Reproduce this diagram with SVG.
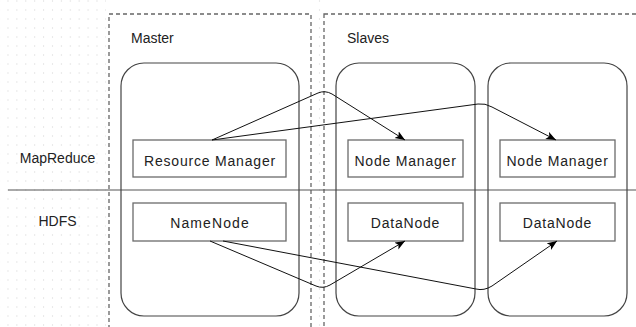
<svg xmlns="http://www.w3.org/2000/svg" width="636" height="327" viewBox="0 0 636 327">
  <defs>
    <pattern id="dots" x="3.5" y="5.5" width="8.9" height="9" patternUnits="userSpaceOnUse">
      <rect x="4" y="4" width="1" height="1" fill="#d0d0d0"/>
    </pattern>
    <marker id="arrow" markerUnits="userSpaceOnUse" markerWidth="12" markerHeight="10" refX="10" refY="4" orient="auto">
      <path d="M0,0 L10,4 L0,8 L2.5,4 z" fill="#000"/>
    </marker>
  </defs>
  <style>
    .zone { fill: #fff; stroke: #666; stroke-width: 1.3; stroke-dasharray: 4 3; }
    .host { fill: none; stroke: #444; stroke-width: 1.2; }
    .svc { fill: #fff; stroke: #6b6b6b; stroke-width: 1.3; }
    .lbl { font-family: "Liberation Sans", Arial, sans-serif; font-size: 14px; fill: #222; }
    .svc-t { font-family: "Liberation Sans", Arial, sans-serif; font-size: 14px; fill: #222; text-anchor: middle; letter-spacing: 0.8px; }
    .edge { fill: none; stroke: #111; stroke-width: 1; marker-end: url(#arrow); }
  </style>

  <rect width="636" height="327" fill="#fff"/>
  <!-- background grid on the open canvas -->
  <rect x="0" y="0" width="106" height="327" fill="url(#dots)"/>
  <rect x="312" y="0" width="11" height="327" fill="url(#dots)"/>

  <!-- dashed tiers -->
  <g id="master-zone">
    <rect class="zone" x="109" y="14" width="202" height="330"/>
    <text class="lbl" x="131" y="43">Master</text>
  </g>
  <g id="slaves-zone">
    <rect class="zone" x="324" y="14" width="330" height="330"/>
    <text class="lbl" x="347" y="43">Slaves</text>
  </g>

  <!-- layer labels and divider -->
  <g id="layers">
    <line x1="8" y1="190" x2="636" y2="190" stroke="#555" stroke-width="1.2"/>
    <text class="lbl" x="57.5" y="163" text-anchor="middle">MapReduce</text>
    <text class="lbl" x="57.5" y="226" text-anchor="middle">HDFS</text>
  </g>

  <!-- machines -->
  <g id="master-host"><rect class="host" x="121" y="63" width="178" height="253" rx="23"/></g>
  <g id="slave-host-1"><rect class="host" x="336" y="63" width="139" height="253" rx="23"/></g>
  <g id="slave-host-2"><rect class="host" x="488" y="63" width="139" height="253" rx="23"/></g>

  <!-- services -->
  <g id="resource-manager">
    <rect class="svc" x="133" y="140" width="153" height="37"/>
    <text class="svc-t" x="210" y="166">Resource Manager</text>
  </g>
  <g id="namenode">
    <rect class="svc" x="133" y="203" width="153" height="38"/>
    <text class="svc-t" x="210" y="228" style="letter-spacing:1.1px">NameNode</text>
  </g>
  <g id="node-manager-1">
    <rect class="svc" x="348" y="140" width="115" height="37"/>
    <text class="svc-t" x="405.5" y="166">Node Manager</text>
  </g>
  <g id="datanode-1">
    <rect class="svc" x="348" y="203" width="115" height="38"/>
    <text class="svc-t" x="405.5" y="228">DataNode</text>
  </g>
  <g id="node-manager-2">
    <rect class="svc" x="500" y="140" width="115" height="37"/>
    <text class="svc-t" x="557.5" y="166">Node Manager</text>
  </g>
  <g id="datanode-2">
    <rect class="svc" x="500" y="203" width="115" height="38"/>
    <text class="svc-t" x="557.5" y="228">DataNode</text>
  </g>

  <!-- connectors -->
  <g id="connectors">
    <path class="edge" d="M212,140 L318,93 Q325,90 332,94 L405,140"/>
    <path class="edge" d="M212,140 L478,104 Q485,103 492,107 L556,140"/>
    <path class="edge" d="M210,241 L316,286 Q323,289 330,285 L405,241"/>
    <path class="edge" d="M223,241 L476,289 Q484,291 492,286 L557,241"/>
  </g>
</svg>
